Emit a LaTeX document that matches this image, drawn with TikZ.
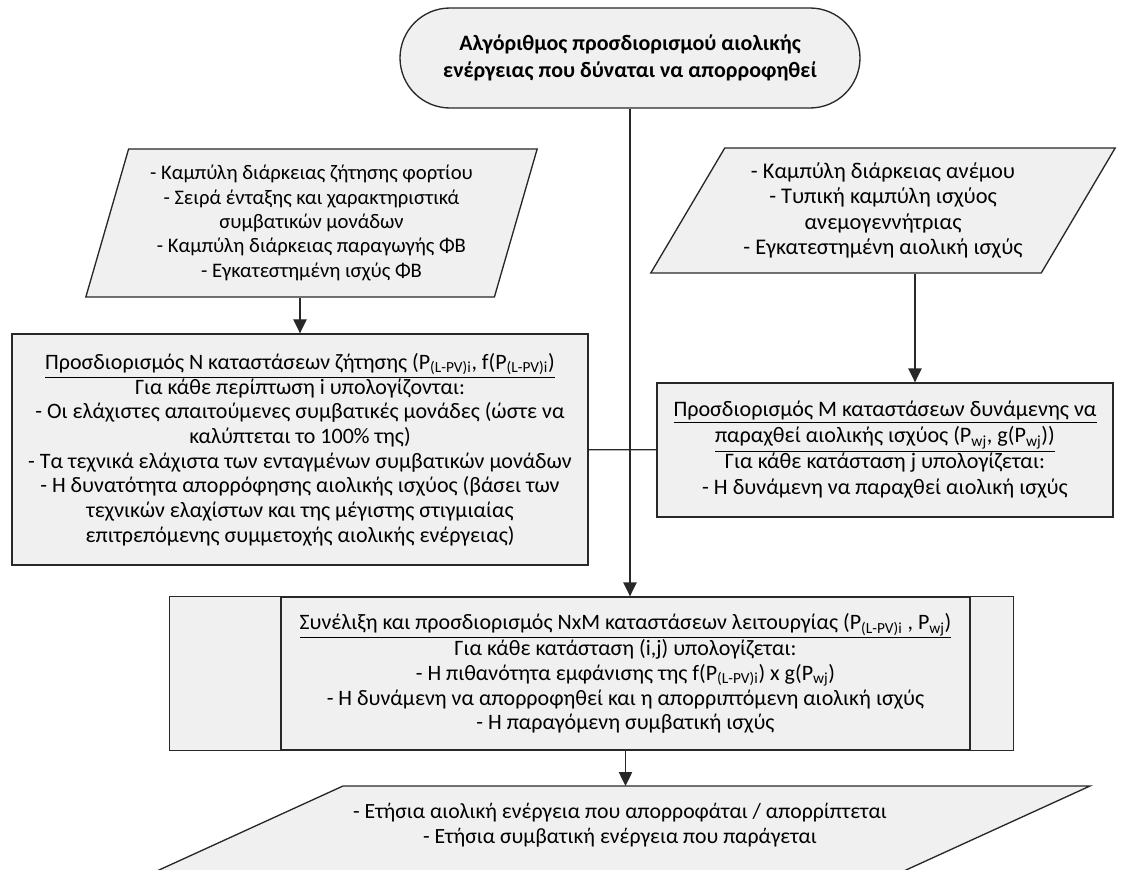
\documentclass[tikz,border=0pt]{standalone}
\usepackage{fontspec}
\setmainfont{Carlito}
\usetikzlibrary{arrows.meta,shapes.geometric,calc}
\definecolor{fc_grey}{RGB}{240, 240, 240}
\definecolor{dc_grey}{RGB}{40, 40, 40}
\newcommand{\txtfont}{\fontsize{16.5}{18.5}\selectfont}
\tikzstyle{tn}=[rectangle,rounded corners=37.5pt,fill=fc_grey,draw=dc_grey,
  line width=1pt,minimum width=345pt,minimum height=75pt,align=center,
  font=\fontsize{16.5}{20}\selectfont\bfseries]
\tikzstyle{dn}=[trapezium,trapezium stretches=true,fill=fc_grey,draw=dc_grey,
  line width=1pt,inner sep=2pt,align=center,font=\txtfont]
\tikzstyle{pn}=[rectangle,fill=fc_grey,draw=dc_grey,
  line width=1pt,inner sep=2pt,align=center,font=\txtfont]
\tikzstyle{cn}=[line width=1pt,draw=dc_grey]

\begin{document}
\begin{tikzpicture}[x=0.75pt,y=-0.75pt,>={Triangle[width=10pt,length=10.5pt]}]
            \useasboundingbox (0, 0) rectangle (1122, 870);
            \clip (0, 0) rectangle (1122, 870);
            \node [style=tn] (0) at (630, 58) {Αλγόριθμος προσδιορισμού αιολικής\\ενέργειας που δύναται να απορροφηθεί};
            \node [style=dn,trapezium left angle=72.4,trapezium right angle=107.6,
              minimum width=339.75pt,minimum height=111pt,font=\fontsize{15.5}{18.3}\selectfont] (1) at (311.5, 223)
              {- Καμπύλη διάρκειας ζήτησης φορτίου\\- Σειρά ένταξης και χαρακτηριστικά\\συμβατικών μονάδων\\- Καμπύλη διάρκειας παραγωγής ΦΒ\\- Εγκατεστημένη ισχύς ΦΒ};
            \node [style=dn,trapezium left angle=56.4,trapezium right angle=123.6,
              minimum width=348.75pt,minimum height=93.75pt,font=\fontsize{16.8}{18.8}\selectfont] (2) at (883, 210.5)
              {- Καμπύλη διάρκειας ανέμου\\- Τυπική καμπύλη ισχύος\\ανεμογεννήτριας\\- Εγκατεστημένη αιολική ισχύς};
            \node [style=pn,minimum width=432pt,minimum height=173.25pt] (3) at (300, 449.5)
              {\underline{Προσδιορισμός Ν καταστάσεων ζήτησης (P\textsubscript{(L-PV)i}, f(P\textsubscript{(L-PV)i})}\\
               Για κάθε περίπτωση i υπολογίζονται:\\
               - Οι ελάχιστες απαιτούμενες συμβατικές μονάδες (ώστε να\\
               καλύπτεται το 100\% της)\\
               - Τα τεχνικά ελάχιστα των ενταγμένων συμβατικών μονάδων\\
               - Η δυνατότητα απορρόφησης αιολικής ισχύος (βάσει των\\
               τεχνικών ελαχίστων και της μέγιστης στιγμιαίας\\
               επιτρεπόμενης συμμετοχής αιολικής ενέργειας)};
            \node [style=pn,minimum width=342pt,minimum height=100.5pt,font=\fontsize{16.6}{19.5}\selectfont] (4) at (885, 450)
              {\underline{Προσδιορισμός Μ καταστάσεων δυνάμενης να}\\
               \underline{παραχθεί αιολικής ισχύος (P\textsubscript{wj}, g(P\textsubscript{wj}))}\\
               Για κάθε κατάσταση j υπολογίζεται:\\
               - Η δυνάμενη να παραχθεί αιολική ισχύς};
            \node [style=pn,minimum width=516.75pt,minimum height=114.75pt] (5) at (625.5, 673.5)
              {\underline{Συνέλιξη και προσδιορισμός NxM καταστάσεων λειτουργίας (P\textsubscript{(L-PV)i} , P\textsubscript{wj})}\\
               Για κάθε κατάσταση (i,j) υπολογίζεται:\\
               - Η πιθανότητα εμφάνισης της f(P\textsubscript{(L-PV)i}) x g(P\textsubscript{wj})\\
               - Η δυνάμενη να απορροφηθεί και η απορριπτόμενη αιολική ισχύς\\
               - Η παραγόμενη συμβατική ισχύς};
            \draw [style=cn,fill=fc_grey] (5.north west) -- ++(-111, 0) |- (5.south west);
            \draw [style=cn,fill=fc_grey] (5.north east) -- ++(43, 0) |- (5.south east);
            % output data, cut by the lower edge of the page
            \filldraw [style=cn,fill=fc_grey] (343, 786) -- (1090, 786) -- (871, 886) -- (124, 886) -- cycle;
            \coordinate (6) at (716.5, 786);
            \node [align=center,font=\fontsize{16.3}{18.5}\selectfont] (7) at (620, 825)
              {- Ετήσια αιολική ενέργεια που απορροφάται / απορρίπτεται\\- Ετήσια συμβατική ενέργεια που παράγεται};
            \coordinate (4a) at ($(4.north)+(30, 0)$);
            \draw [style=cn,->] (0) to (0 |- 5.north);
            \draw [style=cn,->] (3 |- 1.south) to (3);
            \draw [style=cn,->] (4a |- 2.south) to (4a);
            \draw [style=cn] (3) to (4);
            \draw [style=cn,->] (5) to (5 |- 6);
    \end{tikzpicture}
\end{document}
